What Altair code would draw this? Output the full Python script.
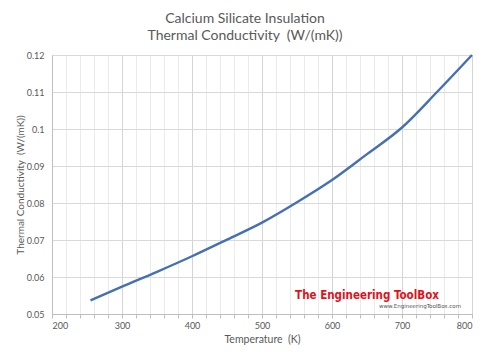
import altair as alt
import pandas as pd

temperature_k = [255, 300, 350, 400, 450, 500, 550, 600, 650, 700, 750, 800]
conductivity = [0.0537, 0.0574, 0.0614, 0.0656, 0.0701, 0.0747, 0.0802, 0.0862, 0.0932, 0.1004, 0.1100, 0.1200]

x_ticks = list(range(200, 801, 20))
y_ticks = [0.05, 0.06, 0.07, 0.08, 0.09, 0.10, 0.11, 0.12]

title_lines = ["Calcium Silicate Insulation", "Thermal Conductivity\u00a0 (W/(mK))"]
x_title = "Temperature\u00a0 (K)"
y_title = "Thermal Conductivity\u00a0 (W/(mK))"
brand = ["The Engineering ToolBox"]
brand_url = ["www.EngineeringToolBox.com"]

df = pd.DataFrame({"T": temperature_k, "k": conductivity})

GRAY = "#595959"
FONT = "Lato, Open Sans, sans-serif"

line = alt.Chart(df).mark_line(
    interpolate="monotone", color="#4670b4", strokeWidth=2.4
).encode(
    x=alt.X(
        "T:Q",
        scale=alt.Scale(domain=[200, 800], nice=False, zero=False),
        axis=alt.Axis(
            values=x_ticks,
            labelExpr="datum.value % 100 === 0 ? datum.label : ''",
            title=x_title,
            grid=True,
            gridColor={"condition": {"test": "datum.value % 100 === 0", "value": "#d4d4d4"}, "value": "#ebebeb"},
            tickColor="#bfbfbf",
            tickSize=4,
            domainColor="#bfbfbf",
            labelColor=GRAY,
            labelFont=FONT,
            labelFontSize=9,
            labelPadding=3,
            titleColor=GRAY,
            titleFont=FONT,
            titleFontSize=10.5,
            titleFontWeight="normal",
            titlePadding=4,
        ),
    ),
    y=alt.Y(
        "k:Q",
        scale=alt.Scale(domain=[0.05, 0.12], nice=False, zero=False),
        axis=alt.Axis(
            values=y_ticks,
            format=".2~f",
            title=y_title,
            grid=True,
            gridColor="#d9d9d9",
            ticks=False,
            domainColor="#bfbfbf",
            labelColor=GRAY,
            labelFont=FONT,
            labelFontSize=9,
            labelPadding=8,
            titleColor=GRAY,
            titleFont=FONT,
            titleFontSize=10,
            titleFontWeight="normal",
            titlePadding=1,
        ),
    ),
)

brand_df = pd.DataFrame({"label": brand})
url_df = pd.DataFrame({"label": brand_url})

brand_text = alt.Chart(brand_df).mark_text(
    font="DejaVu Sans Condensed, Liberation Sans Narrow, sans-serif",
    fontWeight="bold",
    fontSize=11.5,
    color="#e3101c",
    align="center",
    baseline="middle",
).encode(text="label:N", x=alt.value(315), y=alt.value(241))

url_text = alt.Chart(url_df).mark_text(
    font="DejaVu Sans, sans-serif",
    fontSize=5.5,
    color="#555555",
    align="center",
    baseline="middle",
).encode(text="label:N", x=alt.value(368), y=alt.value(251))

chart = alt.layer(line, brand_text, url_text).properties(
    width=420,
    height=259,
    autosize=alt.AutoSizeParams(type="none"),
    padding={"left": 44, "top": 47, "right": 10, "bottom": 45},
    background="white",
    title=alt.TitleParams(
        text=title_lines,
        anchor="middle",
        frame="group",
        dx=-17,
        offset=7,
        font=FONT,
        fontSize=14,
        fontWeight="normal",
        color=GRAY,
        lineHeight=17,
    ),
).configure_view(stroke="#d9d9d9")

chart.save("out.html", embed_options={"renderer": "svg", "actions": False})
